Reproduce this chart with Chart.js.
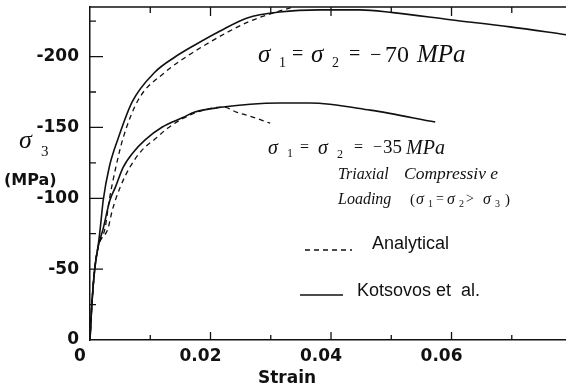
<!DOCTYPE html>
<html lang="en">
<head>
<meta charset="UTF-8">
<title>Triaxial compressive loading</title>
<style>
  body { margin: 0; background: #fff; }
  canvas { display: block; }
</style>
</head>
<body>
<canvas id="strainChart" width="566" height="388"></canvas>
<script src="https://cdn.jsdelivr.net/npm/chart.js"></script>
<script>
// sigma1 = sigma2 = -70 MPa, Kotsovos et al. (solid)
const strainKots70 = [0, 0.0003, 0.0008, 0.0013, 0.0017, 0.0022, 0.0032, 0.0047, 0.0070, 0.0108, 0.0141, 0.0174, 0.0216, 0.0261, 0.0315, 0.0382, 0.0448, 0.0503, 0.0598, 0.0697, 0.079];
const stressKots70 = [0, -24.6, -50.7, -64.8, -78.8, -98.8, -122.1, -142.6, -168, -189.1, -199.7, -208.2, -218.1, -227.3, -231.5, -233, -233, -231, -226, -221, -215.4];

// sigma1 = sigma2 = -70 MPa, analytical (dashed)
const strainAnal70 = [0, 0.0003, 0.0008, 0.0013, 0.0025, 0.0032, 0.0043, 0.0055, 0.0080, 0.0125, 0.0159, 0.0191, 0.0229, 0.0266, 0.0294, 0.0315, 0.0337];
const stressAnal70 = [0, -24.6, -50.7, -64.8, -79, -98.8, -122.1, -142.6, -169.4, -189.1, -199.7, -208.2, -217.4, -225.1, -229.4, -232.2, -235];

// sigma1 = sigma2 = -35 MPa, Kotsovos et al. (solid)
const strainKots35 = [0, 0.0003, 0.0008, 0.0013, 0.0022, 0.0033, 0.0042, 0.0055, 0.0072, 0.0091, 0.0120, 0.0154, 0.0174, 0.0221, 0.0266, 0.0315, 0.0365, 0.0465, 0.0573];
const stressKots35 = [0, -24.6, -50.7, -64.8, -78.8, -98.6, -107.7, -121.8, -132.5, -141.1, -150.3, -157, -160.9, -164.4, -166.4, -167.2, -167.2, -162.2, -153.8];

// sigma1 = sigma2 = -35 MPa, analytical (dashed)
const strainAnal35 = [0, 0.0003, 0.0008, 0.0013, 0.0030, 0.0037, 0.0050, 0.0066, 0.0086, 0.0111, 0.0128, 0.0154, 0.0183, 0.0221, 0.0244, 0.0266, 0.0299];
const stressAnal35 = [0, -24.6, -50.7, -64.8, -78.8, -91.5, -107.7, -121.8, -133.8, -142.9, -149.2, -156.3, -161.5, -164.4, -160.7, -157.9, -153];

// axes
const xTickValues = [0, 0.02, 0.04, 0.06];
const xTickLabels = ['0', '0.02', '0.04', '0.06'];
const xMinorTicks = [0.01, 0.03, 0.05, 0.07];
const yTickValues = [0, -50, -100, -150, -200];
const yTickLabels = ['0', '-50', '-100', '-150', '-200'];
const yMinorTicks = [-25, -75, -125, -175, -225];

const ink = '#111';
const serif = '"Liberation Serif", "DejaVu Serif", serif';
const sans = '"Liberation Sans", Arial, sans-serif';

function toPoints(xs, ys) {
    return xs.map((v, i) => ({ x: v, y: ys[i] }));
}

function curve(label, xs, ys, dashed) {
    return {
        label: label,
        data: toPoints(xs, ys),
        borderColor: ink,
        borderWidth: dashed ? 1.3 : 1.6,
        borderDash: dashed ? [5, 4] : [],
        pointRadius: 0,
        fill: false,
        cubicInterpolationMode: 'monotone'
    };
}

// inward tick marks and the top frame line
const frameTicks = {
    id: 'frameTicks',
    afterDraw(chart) {
        const { ctx, chartArea: a, scales: { x, y } } = chart;
        ctx.save();
        ctx.strokeStyle = ink;
        ctx.lineWidth = 1.3;
        ctx.beginPath();
        ctx.moveTo(a.left, a.top);
        ctx.lineTo(a.right, a.top);
        const xt = (vals, len) => vals.forEach(v => {
            const px = x.getPixelForValue(v);
            ctx.moveTo(px, a.bottom); ctx.lineTo(px, a.bottom - len);
            ctx.moveTo(px, a.top); ctx.lineTo(px, a.top + len + 1);
        });
        xt(xTickValues.slice(1), 8);
        xt(xMinorTicks, 5);
        yTickValues.slice(1).forEach(v => {
            const py = y.getPixelForValue(v);
            ctx.moveTo(a.left, py); ctx.lineTo(a.left + 13, py);
        });
        yMinorTicks.forEach(v => {
            const py = y.getPixelForValue(v);
            ctx.moveTo(a.left, py); ctx.lineTo(a.left + 6, py);
        });
        ctx.stroke();
        ctx.restore();
    }
};

// text annotations, axis titles and the hand-drawn legend
function runs(ctx, parts) {
    parts.forEach(p => {
        ctx.font = p[3];
        ctx.fillText(p[0], p[1], p[2]);
    });
}

const notes = {
    id: 'notes',
    afterDraw(chart) {
        const ctx = chart.ctx;
        ctx.save();
        ctx.fillStyle = ink;
        ctx.textBaseline = 'alphabetic';
        ctx.textAlign = 'left';

        const big = 'italic 25px ' + serif, bigUp = '24px ' + serif, bigEq = '20px ' + serif, bigSub = '14px ' + serif;
        runs(ctx, [
            ['σ', 258, 62, big], ['1', 279, 67, bigSub], ['=', 292, 60, bigEq],
            ['σ', 311, 62, big], ['2', 332, 67, bigSub], ['=', 349, 60, bigEq],
            ['−', 370, 61, bigEq], ['70', 385, 62, bigUp], ['MPa', 417, 62, big]
        ]);

        const mid = 'italic 20px ' + serif, midUp = '19px ' + serif, midEq = '16px ' + serif, midSub = '12px ' + serif;
        runs(ctx, [
            ['σ', 268, 154, mid], ['1', 287, 157, midSub], ['=', 300, 152, midEq],
            ['σ', 318, 154, mid], ['2', 337, 158, midSub], ['=', 354, 152, midEq],
            ['−', 373, 152, midEq], ['35', 383, 153, midUp], ['MPa', 406, 154, mid]
        ]);

        const sm = 'italic 16px ' + serif, smWide = 'italic 17.5px ' + serif, smUp = '15px ' + serif, smEq = '14px ' + serif, smSub = '10px ' + serif;
        runs(ctx, [
            ['Triaxial', 338, 179, sm], ['Compressiv e', 404, 179, smWide],
            ['Loading', 338, 204, sm], ['(', 410, 204, smUp],
            ['σ', 416, 204, sm], ['1', 428, 207, smSub], ['=', 436, 203, smEq],
            ['σ', 447, 204, sm], ['2', 459, 207, smSub], ['>', 466, 203, smEq],
            ['σ', 483, 204, sm], ['3', 495, 207, smSub], [')', 505, 204, smUp]
        ]);

        // y axis title
        runs(ctx, [
            ['σ', 19, 148, 'italic 26px ' + serif], ['3', 41, 156, '15px ' + serif],
            ['(MPa)', 4, 185, 'bold 16px "DejaVu Sans", sans-serif']
        ]);
        // x axis title
        runs(ctx, [['Strain', 258, 383, 'bold 17px "DejaVu Sans", sans-serif']]);

        // legend
        ctx.strokeStyle = ink;
        ctx.lineWidth = 1.3;
        ctx.setLineDash([5, 4]);
        ctx.beginPath(); ctx.moveTo(305, 250); ctx.lineTo(352, 250); ctx.stroke();
        ctx.setLineDash([]);
        ctx.lineWidth = 1.6;
        ctx.beginPath(); ctx.moveTo(300, 295); ctx.lineTo(343, 295); ctx.stroke();
        runs(ctx, [
            ['Analytical', 372, 249, '18px ' + sans],
            ['Kotsovos et  al.', 357, 296, '18px ' + sans]
        ]);
        ctx.restore();
    }
};

const chart = new Chart(document.getElementById('strainChart'), {
    type: 'line',
    data: {
        datasets: [
            curve('Kotsovos et al.', strainKots70, stressKots70, false),
            curve('Analytical', strainAnal70, stressAnal70, true),
            curve('Kotsovos et al.', strainKots35, stressKots35, false),
            curve('Analytical', strainAnal35, stressAnal35, true)
        ]
    },
    options: {
        responsive: false,
        animation: false,
        layout: { padding: { top: 7, right: 0, bottom: 0, left: 0 } },
        plugins: {
            legend: { display: false },
            tooltip: { enabled: false }
        },
        scales: {
            x: {
                type: 'linear',
                min: 0,
                max: 0.079,
                grid: { display: false, drawTicks: false },
                border: { display: true, color: ink, width: 1.5 },
                afterBuildTicks: s => { s.ticks = xTickValues.map(v => ({ value: v })); },
                afterFit: s => { s.height = 48; s.paddingLeft = 0; s.paddingRight = 0; },
                ticks: {
                    color: ink,
                    padding: 6,
                    labelOffset: -10,
                    maxRotation: 0,
                    font: { family: '"DejaVu Sans", sans-serif', size: 17, weight: 'bold' },
                    callback: v => xTickLabels[xTickValues.indexOf(v)]
                }
            },
            y: {
                type: 'linear',
                min: -235,
                max: 0,
                reverse: true,
                grid: { display: false, drawTicks: false },
                border: { display: true, color: ink, width: 1.5 },
                afterBuildTicks: s => { s.ticks = yTickValues.map(v => ({ value: v })); },
                afterFit: s => { s.width = 90; s.paddingTop = 0; s.paddingBottom = 0; },
                ticks: {
                    color: ink,
                    padding: 11,
                    font: { family: '"DejaVu Sans", sans-serif', size: 17, weight: 'bold' },
                    callback: v => yTickLabels[yTickValues.indexOf(v)]
                }
            }
        }
    },
    plugins: [frameTicks, notes]
});
</script>
</body>
</html>
